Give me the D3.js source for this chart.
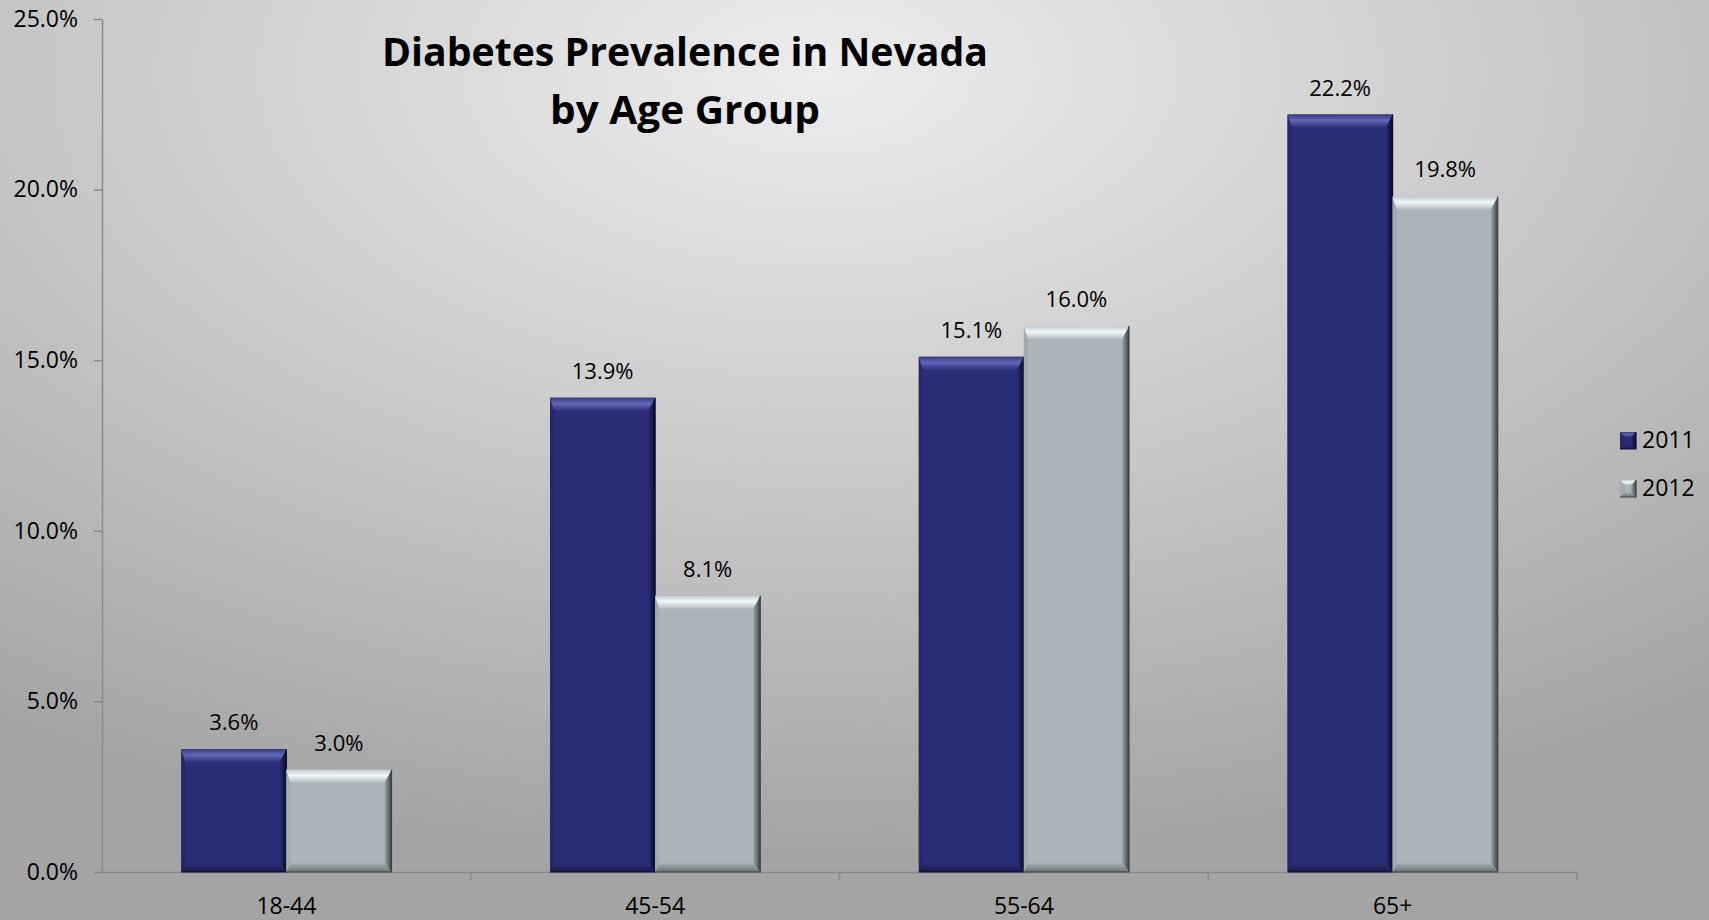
<!DOCTYPE html>
<html>
<head>
<meta charset="utf-8">
<script src="https://cdn.jsdelivr.net/npm/d3@7"></script>
<style>
  body { margin: 0; overflow: hidden; }
  text { font-family: "Open Sans", "DejaVu Sans", sans-serif; fill: #000; }
</style>
</head>
<body>
<svg id="chart" width="1709" height="920"></svg>
<script>
// data
var ageGroups = ["18-44", "45-54", "55-64", "65+"];
var years = ["2011", "2012"];
var values2011 = [0.036, 0.139, 0.151, 0.222];
var values2012 = [0.030, 0.081, 0.160, 0.198];
var yTicks = [0, 0.05, 0.10, 0.15, 0.20, 0.25];
var titleLines = ["Diabetes Prevalence in Nevada", "by Age Group"];

var svg = d3.select("#chart"),
    margin = {top: 19, right: 132, bottom: 48, left: 102},
    width = +svg.attr("width") - margin.left - margin.right,
    height = +svg.attr("height") - margin.top - margin.bottom;

var defs = svg.append("defs");

// background
var bg = defs.append("radialGradient")
    .attr("id", "bg")
    .attr("cx", "48%").attr("cy", "8%").attr("r", "85%");
bg.append("stop").attr("offset", "0%").attr("stop-color", "#ededed");
bg.append("stop").attr("offset", "55%").attr("stop-color", "#c6c6c6");
bg.append("stop").attr("offset", "100%").attr("stop-color", "#a4a4a4");

svg.append("rect")
    .attr("width", 1709).attr("height", 920)
    .attr("fill", "url(#bg)");

// bevel colours per series
var styles = {
  "2011": {face: "#2a2d78", top: ["#34388a", "#6268b6", "#2d317e"], left: "#25286c",
           right: ["#2a2d78", "#0b0c28"], bottom: ["#2a2d78", "#181a48"], edge: "#0c0d2a"},
  "2012": {face: "#aab5bb", top: ["#c0cbd0", "#f2f7f9", "#b3bec3"], left: "#a0abb1",
           right: ["#9ea9ae", "#3b4245"], bottom: ["#a6b1b6", "#6a7377"], edge: "#3a4043"}
};

function grad(id, c, horiz, stops) {
  var gr = defs.append("linearGradient")
      .attr("id", id)
      .attr("x1", 0).attr("y1", 0)
      .attr("x2", horiz ? 1 : 0).attr("y2", horiz ? 0 : 1);
  c.forEach(function(col, i) {
    gr.append("stop").attr("offset", stops[i]).attr("stop-color", col);
  });
}

years.forEach(function(yr) {
  grad("top" + yr, styles[yr].top, false, ["0%", "45%", "100%"]);
  grad("right" + yr, styles[yr].right, true, ["0%", "100%"]);
  grad("bottom" + yr, styles[yr].bottom, false, ["0%", "100%"]);
});

var x0 = d3.scaleBand()
    .domain(ageGroups)
    .range([0, width])
    .paddingInner(0.43)
    .paddingOuter(0.215);

var x1 = d3.scaleBand()
    .domain(years)
    .range([0, x0.bandwidth()]);

var y = d3.scaleLinear()
    .domain([0, 0.25])
    .range([height, 0]);

var g = svg.append("g")
    .attr("transform", "translate(" + margin.left + "," + margin.top + ")");

// y axis
var yAxis = g.append("g")
    .attr("class", "axis axis--y")
    .call(d3.axisLeft(y).tickValues(yTicks).tickSize(8).tickSizeOuter(0).tickPadding(16)
      .tickFormat(d3.format(".1%")));
yAxis.selectAll("path, line").attr("stroke", "#8a8a8a").attr("stroke-width", 1.5);
yAxis.selectAll("text")
    .style("font-size", "23px")
    .style("font-family", "Open Sans")
    .attr("fill", "#000");

// x axis
var xAxis = g.append("g")
    .attr("class", "axis axis--x")
    .attr("transform", "translate(0," + height + ")")
    .call(d3.axisBottom(x0).tickSize(0).tickSizeOuter(0).tickPadding(26));
xAxis.select("path").attr("stroke", "#8a8a8a").attr("stroke-width", 1.5);
xAxis.selectAll("text")
    .style("font-size", "23px")
    .style("font-family", "Open Sans")
    .attr("fill", "#000");

// tick marks between categories
xAxis.selectAll(".sep")
    .data(ageGroups)
    .enter().append("line")
      .attr("class", "sep")
      .attr("x1", function(d) { return x0(d) - x0.step() * x0.paddingOuter() + x0.step(); })
      .attr("x2", function(d) { return x0(d) - x0.step() * x0.paddingOuter() + x0.step(); })
      .attr("y1", 0).attr("y2", 8)
      .attr("stroke", "#8a8a8a").attr("stroke-width", 1.5);

// bars
var rows = [];
ageGroups.forEach(function(a, i) {
  rows.push({group: a, year: "2011", value: values2011[i]});
  rows.push({group: a, year: "2012", value: values2012[i]});
});

// bevel widths: top, right, bottom, left
var bev = {t: 13, r: 7, b: 9, l: 4};

function bevelBar(sel, bx, by, bw, bh, st, yr, bv) {
  var k = Math.min(1, bh / (bv.t + bv.b)),
      t = bv.t * k, b = bv.b * k, l = bv.l, r = bv.r;
  sel.append("rect")
      .attr("x", bx).attr("y", by).attr("width", bw).attr("height", bh)
      .attr("fill", st.face);
  sel.append("polygon")
      .attr("points", [[bx, by], [bx + l, by + t], [bx + l, by + bh - b], [bx, by + bh]].join(" "))
      .attr("fill", st.left);
  sel.append("polygon")
      .attr("points", [[bx + bw, by], [bx + bw - r, by + t], [bx + bw - r, by + bh - b], [bx + bw, by + bh]].join(" "))
      .attr("fill", "url(#right" + yr + ")");
  sel.append("polygon")
      .attr("points", [[bx, by + bh], [bx + bw, by + bh], [bx + bw - r, by + bh - b], [bx + l, by + bh - b]].join(" "))
      .attr("fill", "url(#bottom" + yr + ")");
  sel.append("polygon")
      .attr("points", [[bx, by], [bx + bw, by], [bx + bw - r, by + t], [bx + l, by + t]].join(" "))
      .attr("fill", "url(#top" + yr + ")");
  sel.append("path")
      .attr("d", "M" + (bx + bw) + "," + by + "V" + (by + bh) + "H" + bx)
      .attr("fill", "none")
      .attr("stroke", st.edge)
      .attr("stroke-width", 1.2);
}

var bars = g.selectAll(".bar")
  .data(rows)
  .enter().append("g")
    .attr("class", "bar");

bars.each(function(d) {
  var bx = x0(d.group) + x1(d.year),
      by = y(d.value),
      bw = x1.bandwidth(),
      bh = y(0) - y(d.value);
  bevelBar(d3.select(this), bx, by, bw, bh, styles[d.year], d.year, bev);
});

// data labels
g.selectAll(".label")
  .data(rows)
  .enter().append("text")
    .attr("class", "label")
    .attr("x", function(d) { return x0(d.group) + x1(d.year) + x1.bandwidth() / 2; })
    .attr("y", function(d) { return y(d.value) - 19; })
    .attr("text-anchor", "middle")
    .style("font-size", "22px")
    .text(function(d) { return d3.format(".1%")(d.value); });

// title
svg.selectAll(".title")
  .data(titleLines)
  .enter().append("text")
    .attr("class", "title")
    .attr("x", 685)
    .attr("y", function(d, i) { return 66 + i * 58; })
    .attr("text-anchor", "middle")
    .style("font-size", "39px")
    .style("font-weight", 700)
    .attr("textLength", function(d, i) { return i === 0 ? 606 : 270; })
    .attr("lengthAdjust", "spacingAndGlyphs")
    .text(function(d) { return d; });

// legend
var legend = svg.selectAll(".legend")
  .data(years)
  .enter().append("g")
    .attr("class", "legend")
    .attr("transform", function(d, i) { return "translate(1620," + (432 + i * 48) + ")"; });

legend.each(function(d) {
  bevelBar(d3.select(this), 0, 0, 16, 17, styles[d], d, {t: 5, r: 5, b: 5, l: 5});
});

legend.append("text")
    .attr("x", 22)
    .attr("y", 16)
    .style("font-size", "23px")
    .text(function(d) { return d; });
</script>
</body>
</html>
